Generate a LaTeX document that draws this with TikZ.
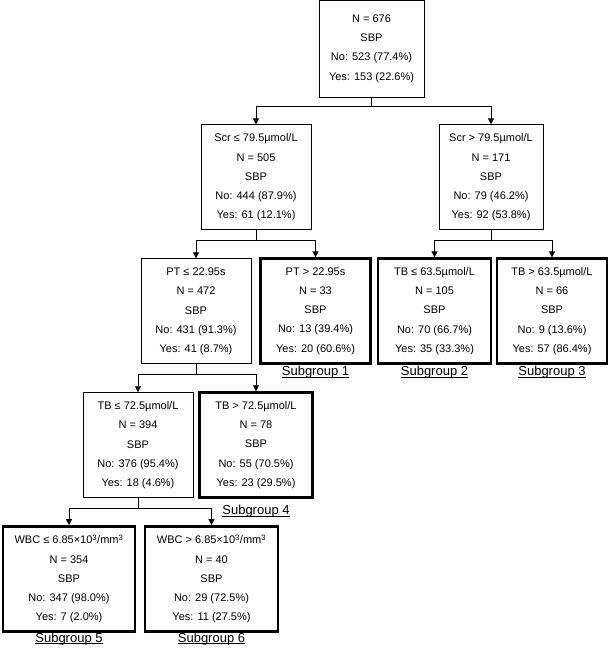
\documentclass[tikz,border=0pt]{standalone}
\usepackage{fontspec}
\setmainfont{Liberation Sans}
\usetikzlibrary{arrows.meta, positioning}
\usepackage{xcolor}
\definecolor{ink}{HTML}{000000}
\newcommand{\subul}[1]{\setbox0\hbox{#1}\rlap{\rule[-1.6pt]{\wd0}{0.8pt}}\box0}

\begin{document}
\begin{tikzpicture}[
  x=1pt, y=1pt,
  box/.style={draw=ink, line width=0.9pt, fill=white, align=center,
              font=\fontsize{11}{19.2}\selectfont, inner sep=4pt,
              minimum width=110pt, minimum height=105pt},
  leaf/.style={box, line width=2.4pt},
  arr/.style={-{Triangle[length=6pt, width=6pt]}, line width=0.9pt, draw=ink},
  sub/.style={font=\fontsize{13}{15}\selectfont, inner sep=0pt, text=ink}
]
\useasboundingbox (0,0) rectangle (609,-648);

% root
\node[box, minimum width=105pt, minimum height=97pt] (root) at (371.5,-48.5)
  {N = 676\\ SBP\\ No: 523 (77.4\%)\\ Yes: 153 (22.6\%)};

% first split: Scr
\node[box, below=27pt of root, xshift=-115.5pt] (scrlo)
  {Scr ≤ 79.5µmol/L\\ N = 505\\ SBP\\ No: 444 (87.9\%)\\ Yes: 61 (12.1\%)};
\node[box, minimum width=104pt, below=27pt of root, xshift=119.5pt] (scrhi)
  {Scr > 79.5µmol/L\\ N = 171\\ SBP\\ No: 79 (46.2\%)\\ Yes: 92 (53.8\%)};

% second split: PT and TB
\node[box, below=28pt of scrlo, xshift=-60pt] (ptlo)
  {PT ≤ 22.95s\\ N = 472\\ SBP\\ No: 431 (91.3\%)\\ Yes: 41 (8.7\%)};
\node[leaf, below=27pt of scrlo, xshift=59.5pt] (pthi)
  {PT > 22.95s\\ N = 33\\ SBP\\ No: 13 (39.4\%)\\ Yes: 20 (60.6\%)};
\node[leaf, minimum width=113pt, below=27pt of scrhi, xshift=-56.5pt] (tblo)
  {TB ≤ 63.5µmol/L\\ N = 105\\ SBP\\ No: 70 (66.7\%)\\ Yes: 35 (33.3\%)};
\node[leaf, below=27pt of scrhi, xshift=61pt] (tbhi)
  {TB > 63.5µmol/L\\ N = 66\\ SBP\\ No: 9 (13.6\%)\\ Yes: 57 (86.4\%)};

% third split: TB
\node[box, below=28pt of ptlo, xshift=-58pt] (tbblo)
  {TB ≤ 72.5µmol/L\\ N = 394\\ SBP\\ No: 376 (95.4\%)\\ Yes: 18 (4.6\%)};
\node[leaf, minimum width=113pt, below=27pt of ptlo, xshift=60pt] (tbbhi)
  {TB > 72.5µmol/L\\ N = 78\\ SBP\\ No: 55 (70.5\%)\\ Yes: 23 (29.5\%)};

% fourth split: WBC
\node[leaf, minimum width=132pt, below=27pt of tbblo, xshift=-69pt] (wbclo)
  {WBC ≤ 6.85×10\textsuperscript{3}/mm\textsuperscript{3}\\ N = 354\\ SBP\\ No: 347 (98.0\%)\\ Yes: 7 (2.0\%)};
\node[leaf, minimum width=133pt, below=27pt of tbblo, xshift=73.5pt] (wbchi)
  {WBC > 6.85×10\textsuperscript{3}/mm\textsuperscript{3}\\ N = 40\\ SBP\\ No: 29 (72.5\%)\\ Yes: 11 (27.5\%)};

% subgroup labels
\node[sub, below=1.5pt of pthi] (sg1) {\subul{Subgroup 1}};
\node[sub, below=1.5pt of tblo] (sg2) {\subul{Subgroup 2}};
\node[sub, below=1.5pt of tbhi] (sg3) {\subul{Subgroup 3}};
\node[sub, below=6.5pt of tbbhi] (sg4) {\subul{Subgroup 4}};
\node[sub, below=0.5pt of wbclo] (sg5) {\subul{Subgroup 5}};
\node[sub, below=0.5pt of wbchi] (sg6) {\subul{Subgroup 6}};

% edges
\draw[arr] (root.south) -- ++(0,-9) -| (scrlo.north);
\draw[arr] (root.south) -- ++(0,-9) -| (scrhi.north);
\draw[arr] (scrlo.south) -- ++(0,-10) -| (ptlo.north);
\draw[arr] (scrlo.south) -- ++(0,-10) -| (pthi.north);
\draw[arr] (scrhi.south) -- ++(0,-10) -| (tblo.north);
\draw[arr] (scrhi.south) -- ++(0,-10) -| (tbhi.north);
\draw[arr] (ptlo.south) -- ++(0,-10) -| (tbblo.north);
\draw[arr] (ptlo.south) -- ++(0,-10) -| (tbbhi.north);
\draw[arr] (tbblo.south) -- ++(0,-10) -| (wbclo.north);
\draw[arr] (tbblo.south) -- ++(0,-10) -| (wbchi.north);

\end{tikzpicture}
\end{document}
